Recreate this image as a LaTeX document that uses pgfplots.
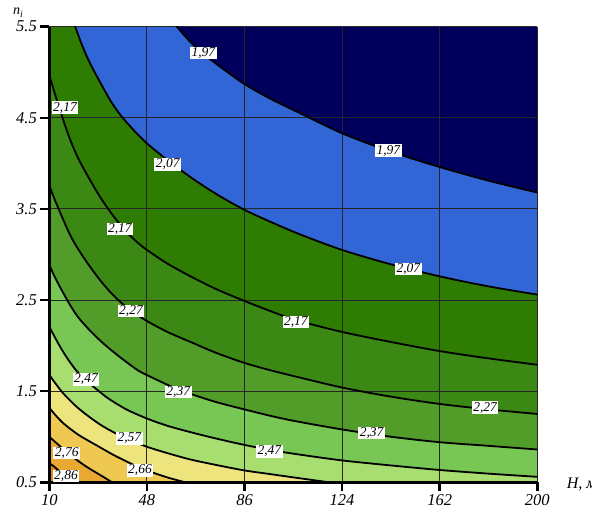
\documentclass[border=0pt]{standalone}
\usepackage{pgfplots}
\pgfplotsset{compat=1.18}
\usepackage{fontspec}
\setmainfont{Liberation Serif}
\definecolor{cnavy}{RGB}{0,0,92}
\definecolor{cblue}{RGB}{50,102,214}
\definecolor{cgA}{RGB}{46,125,2}
\definecolor{cgB}{RGB}{60,136,20}
\definecolor{cgC}{RGB}{82,156,42}
\definecolor{cgD}{RGB}{120,198,84}
\definecolor{cgE}{RGB}{168,222,112}
\definecolor{cyA}{RGB}{238,228,126}
\definecolor{cyB}{RGB}{238,200,80}
\definecolor{coA}{RGB}{232,168,50}
\definecolor{coB}{RGB}{222,140,26}
\tikzset{
  lbl/.style={fill=white, inner xsep=1.5pt, inner ysep=0.8pt, font=\itshape\fontsize{13.5}{13.5}\selectfont},
}
\pgfplotsset{
  cl/.style={black, line width=1.8pt, smooth},
  fl/.style={on layer=axis background, draw=none},
}
\begin{document}
\begin{tikzpicture}
\begin{axis}[
  set layers=standard,
  clip mode=individual,
  scale only axis, width=488pt, height=455.6pt,
  xmin=10, xmax=200, ymin=0.5, ymax=5.5,
  xtick={10,48,86,124,162,200}, xticklabels={10,48,86,124,162,200},
  ytick={0.5,1.5,2.5,3.5,4.5,5.5}, yticklabels={0.5,1.5,2.5,3.5,4.5,5.5},
  grid=major, grid style={black!85, line width=1.1pt},
  axis x line*=bottom, axis y line*=left,
  axis line style={line width=2.8pt, black, -},
  tick align=outside, major tick length=9pt,
  tick style={line width=2.6pt, black},
  ticklabel style={font=\itshape\fontsize{16.5}{16.5}\selectfont},
]
% ---- filled bands ----
\addplot[fl, fill=cnavy] coordinates {(10,5.6) (200,5.6)} \closedcycle;
\addplot[fl, fill=cblue] coordinates {(10,5.6) (58.5,5.6) (59.7,5.5) (65,5.33) (70,5.2) (78,5.03) (86,4.87) (96,4.71) (107.7,4.55) (124,4.33) (142.8,4.13) (162,3.96) (181,3.81) (200,3.68)} \closedcycle;
\addplot[fl, fill=cgA] coordinates {(10,5.6) (19.2,5.6) (20.1,5.5) (23,5.28) (26,5.09) (30,4.88) (34,4.68) (38,4.52) (43,4.36) (48,4.22) (54,4.08) (60,3.95) (68,3.79) (77,3.63) (86,3.49) (96,3.36) (107.7,3.22) (124,3.05) (142,2.90) (162,2.76) (181,2.65) (200,2.56)} \closedcycle;
\addplot[fl, fill=cgB] coordinates {(10,4.97) (12,4.78) (14.9,4.52) (18,4.27) (21,4.07) (25,3.86) (29.8,3.63) (35,3.42) (40,3.25) (44,3.14) (48,3.05) (56,2.90) (65,2.76) (75,2.62) (86,2.49) (96,2.38) (106,2.28) (124,2.15) (143,2.04) (162,1.94) (181,1.86) (200,1.79)} \closedcycle;
\addplot[fl, fill=cgC] coordinates {(10,3.76) (12,3.61) (15,3.41) (18,3.22) (21,3.07) (25,2.90) (30,2.71) (35,2.55) (41,2.40) (48,2.27) (56,2.15) (65,2.04) (75,1.92) (86,1.81) (96,1.73) (106,1.66) (124,1.54) (143,1.44) (162,1.36) (181,1.30) (200,1.25)} \closedcycle;
\addplot[fl, fill=cgD] coordinates {(10,2.89) (12,2.76) (15,2.60) (18,2.45) (21,2.32) (25,2.19) (30,2.05) (35,1.93) (40,1.82) (45,1.72) (50,1.65) (56,1.57) (60,1.52) (65,1.47) (75,1.38) (86,1.30) (96,1.23) (106,1.17) (124,1.08) (143,1.00) (162,0.94) (181,0.90) (200,0.86)} \closedcycle;
\addplot[fl, fill=cgE] coordinates {(10,2.21) (12,2.10) (15,1.95) (18,1.82) (21,1.71) (24.3,1.62) (28,1.53) (33,1.42) (40,1.30) (48,1.20) (56,1.12) (65,1.05) (75,0.98) (86,0.91) (96,0.855) (106,0.81) (124,0.74) (143,0.685) (162,0.635) (181,0.595) (200,0.56)} \closedcycle;
\addplot[fl, fill=cyA] coordinates {(10,1.68) (12,1.60) (15,1.49) (18,1.40) (21,1.32) (25,1.23) (30,1.13) (35,1.05) (41,0.97) (48,0.89) (56,0.82) (65,0.75) (75,0.69) (86,0.63) (96,0.59) (106,0.55) (119,0.5) (125,0.48)} \closedcycle;
\addplot[fl, fill=cyB] coordinates {(10,1.32) (12,1.25) (15,1.16) (18,1.09) (21.4,1.02) (25,0.96) (30,0.88) (35,0.80) (40,0.73) (46,0.65) (52,0.59) (57,0.545) (63,0.5) (68,0.47)} \closedcycle;
\addplot[fl, fill=coA] coordinates {(10,1.00) (12,0.95) (14,0.90) (16.8,0.83) (20,0.76) (24,0.68) (28,0.61) (31,0.56) (34.5,0.5) (37,0.47)} \closedcycle;
\addplot[fl, fill=coB] coordinates {(10,0.71) (12,0.67) (14,0.62) (16.5,0.57) (18.5,0.53) (20.5,0.5) (22,0.48)} \closedcycle;
% ---- contour lines ----
\addplot[cl] coordinates {(58.5,5.56) (59.7,5.5) (65,5.33) (70,5.2) (78,5.03) (86,4.87) (96,4.71) (107.7,4.55) (124,4.33) (142.8,4.13) (162,3.96) (181,3.81) (200,3.68)};
\addplot[cl] coordinates {(19.4,5.56) (20.1,5.5) (23,5.28) (26,5.09) (30,4.88) (34,4.68) (38,4.52) (43,4.36) (48,4.22) (54,4.08) (60,3.95) (68,3.79) (77,3.63) (86,3.49) (96,3.36) (107.7,3.22) (124,3.05) (142,2.90) (162,2.76) (181,2.65) (200,2.56)};
\addplot[cl] coordinates {(10,4.97) (12,4.78) (14.9,4.52) (18,4.27) (21,4.07) (25,3.86) (29.8,3.63) (35,3.42) (40,3.25) (44,3.14) (48,3.05) (56,2.90) (65,2.76) (75,2.62) (86,2.49) (96,2.38) (106,2.28) (124,2.15) (143,2.04) (162,1.94) (181,1.86) (200,1.79)};
\addplot[cl] coordinates {(10,3.76) (12,3.61) (15,3.41) (18,3.22) (21,3.07) (25,2.90) (30,2.71) (35,2.55) (41,2.40) (48,2.27) (56,2.15) (65,2.04) (75,1.92) (86,1.81) (96,1.73) (106,1.66) (124,1.54) (143,1.44) (162,1.36) (181,1.30) (200,1.25)};
\addplot[cl] coordinates {(10,2.89) (12,2.76) (15,2.60) (18,2.45) (21,2.32) (25,2.19) (30,2.05) (35,1.93) (40,1.82) (45,1.72) (50,1.65) (56,1.57) (60,1.52) (65,1.47) (75,1.38) (86,1.30) (96,1.23) (106,1.17) (124,1.08) (143,1.00) (162,0.94) (181,0.90) (200,0.86)};
\addplot[cl] coordinates {(10,2.21) (12,2.10) (15,1.95) (18,1.82) (21,1.71) (24.3,1.62) (28,1.53) (33,1.42) (40,1.30) (48,1.20) (56,1.12) (65,1.05) (75,0.98) (86,0.91) (96,0.855) (106,0.81) (124,0.74) (143,0.685) (162,0.635) (181,0.595) (200,0.56)};
\addplot[cl] coordinates {(10,1.68) (12,1.60) (15,1.49) (18,1.40) (21,1.32) (25,1.23) (30,1.13) (35,1.05) (41,0.97) (48,0.89) (56,0.82) (65,0.75) (75,0.69) (86,0.63) (96,0.59) (106,0.55) (119,0.5) (125,0.48)};
\addplot[cl] coordinates {(10,1.32) (12,1.25) (15,1.16) (18,1.09) (21.4,1.02) (25,0.96) (30,0.88) (35,0.80) (40,0.73) (46,0.65) (52,0.59) (57,0.545) (63,0.5) (68,0.47)};
\addplot[cl] coordinates {(10,1.00) (12,0.95) (14,0.90) (16.8,0.83) (20,0.76) (24,0.68) (28,0.61) (31,0.56) (34.5,0.5) (37,0.47)};
\addplot[cl] coordinates {(10,0.71) (12,0.67) (14,0.62) (16.5,0.57) (18.5,0.53) (20.5,0.5) (22,0.48)};
% ---- contour labels ----
\node[lbl] at (axis cs:70,5.21) {1,97};
\node[lbl] at (axis cs:142,4.14) {1,97};
\node[lbl] at (axis cs:16.1,4.61) {2,17};
\node[lbl] at (axis cs:56.1,3.99) {2,07};
\node[lbl] at (axis cs:37.5,3.28) {2,17};
\node[lbl] at (axis cs:41.8,2.38) {2,27};
\node[lbl] at (axis cs:106,2.26) {2,17};
\node[lbl] at (axis cs:149.8,2.84) {2,07};
\node[lbl] at (axis cs:24.3,1.63) {2,47};
\node[lbl] at (axis cs:60.2,1.49) {2,37};
\node[lbl] at (axis cs:179.7,1.32) {2,27};
\node[lbl] at (axis cs:135.5,1.04) {2,37};
\node[lbl] at (axis cs:41.2,0.98) {2,57};
\node[lbl] at (axis cs:95.7,0.84) {2,47};
\node[lbl] at (axis cs:16.8,0.82) {2,76};
\node[lbl] at (axis cs:45.3,0.63) {2,66};
\node[lbl] at (axis cs:16.5,0.57) {2,86};
% ---- axis names ----
\node[font=\itshape\fontsize{14}{14}\selectfont] at (rel axis cs:0,1) [xshift=-31pt, yshift=14pt] {n\textsubscript{i}};
\node[font=\itshape\fontsize{16}{16}\selectfont, anchor=west] at (rel axis cs:1,0) [xshift=26pt, yshift=-2pt] {H, м};
\end{axis}
\pgfresetboundingbox
\path[use as bounding box] (-49.3pt,-25.7pt) rectangle (542.7pt,482.3pt);
\end{tikzpicture}
\end{document}
